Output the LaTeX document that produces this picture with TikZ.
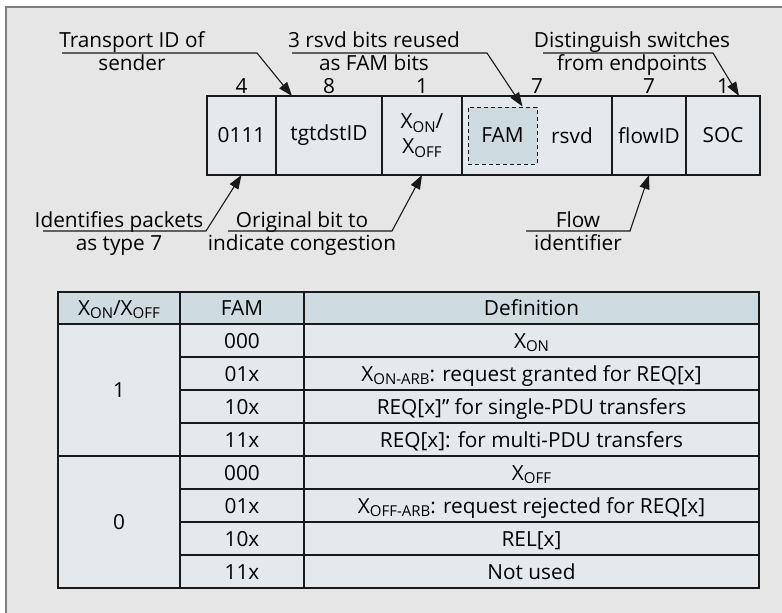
\documentclass[tikz,border=0pt]{standalone}
\usepackage{fontspec}
\setmainfont{Open Sans}
\usetikzlibrary{positioning,arrows.meta,calc}
\definecolor{bggray}{RGB}{230,230,230}
\definecolor{framegray}{RGB}{128,128,128}
\definecolor{fieldfill}{RGB}{228,233,238}
\definecolor{famfill}{RGB}{205,218,223}
\definecolor{headfill}{RGB}{206,219,224}
\definecolor{inkline}{RGB}{25,25,25}
\newcommand{\lowtx}[1]{\raisebox{-0.35ex}{\fontsize{15}{15}\selectfont #1}}
\tikzset{
  fieldbox/.style={draw=inkline, line width=1.3pt, fill=fieldfill, minimum height=79pt, outer sep=0pt, inner sep=0pt, align=center},
  fambox/.style={draw=inkline, dash pattern=on 4pt off 3pt, line width=1pt, fill=famfill, minimum width=69pt, minimum height=57pt, inner sep=0pt},
  bitnum/.style={anchor=base, inner sep=0pt},
  calltext/.style={align=center, anchor=base, inner sep=0pt},
  callarrow/.style={-{Triangle[length=14pt,width=10pt]}, line width=1.1pt, inkline},
  tabrule/.style={line width=1.8pt, inkline},
  celltext/.style={anchor=base, inner sep=0pt}
}
\begin{document}
\begin{tikzpicture}[x=1pt, y=-1pt, every node/.style={font=\fontsize{20.8}{23}\selectfont}]
  \useasboundingbox (0,0) rectangle (782,613);
  % frame
  \fill[bggray] (6,7) rectangle (782,613);
  \draw[framegray, line width=2pt] (6,613) -- (6,7) -- (782,7);

  % packet fields
  \node[fieldbox, minimum width=69pt] (f0111) at (241.5,135.5) {0111};
  \node[fieldbox, minimum width=106pt, right=0pt of f0111] (ftgt) {tgtdstID};
  \node[fieldbox, minimum width=80pt, right=0pt of ftgt] (fxon) {X\lowtx{ON}/\\[2pt]X\lowtx{OFF}};
  \node[fieldbox, minimum width=150pt, right=0pt of fxon] (frsvd) {};
  \node[fieldbox, minimum width=74pt, right=0pt of frsvd] (fflow) {flowID};
  \node[fieldbox, minimum width=74pt, right=0pt of fflow] (fsoc) {SOC};
  \node[fambox] (ffam) at (502.5,135.5) {FAM};
  \node[inner sep=0pt] (rsvdtx) at (572,135.5) {rsvd};
  \foreach \f/\n in {f0111/4, ftgt/8, fxon/1, frsvd/7, fflow/7, fsoc/1}
    \node[bitnum] (n\f) at ($(\f.north)+(0,-3)$) {\n};

  % callouts (base = last line)
  \node[calltext] (ltrans) at (132,70) {Transport ID of\\sender};
  \node[calltext] (lfam) at (374,70) {3 rsvd bits reused\\as FAM bits};
  \node[calltext] (lsoc) at (632,70) {Distinguish switches\\from endpoints};
  \node[calltext] (lident) at (119,250) {Identifies packets\\as type 7};
  \node[calltext] (lorig) at (302,250) {Original bit to\\indicate congestion};
  \node[calltext] (lflow) at (578,250) {Flow\\identifier};
  \coordinate (utrans) at (62,53);
  \coordinate (ufam) at (292,53);
  \coordinate (usoc) at (543,53);
  \coordinate (uident) at (43,231);
  \coordinate (uorig) at (228,231);
  \coordinate (uflow) at (526,231);
  \draw[callarrow] (utrans) -- ++(195,0) -- ($(ftgt.north west)+(16,0)$);
  \draw[callarrow] (ufam) -- ++(195,0) -- ($(ffam.north east)+(-15,0)$);
  \draw[callarrow] (usoc) -- ++(170,0) -- ($(fsoc.north east)+(-21,0)$);
  \draw[callarrow] (uident) -- ++(163,0) -- (f0111.south);
  \draw[callarrow] (uorig) -- ++(164,0) -- (fxon.south);
  \draw[callarrow] (uflow) -- ++(104,0) -- (fflow.south);

  % table
  \fill[headfill] (58,292) rectangle (759,324);
  \fill[fieldfill] (58,324) rectangle (759,588);
  \foreach \y in {357,390,423,489,522,555}
    \draw[tabrule] (180,\y) -- (759,\y);
  \draw[tabrule] (58,324) -- (759,324) (58,456) -- (759,456);
  \draw[tabrule] (180,292) -- (180,588) (304,292) -- (304,588);
  \draw[tabrule] (58,292) rectangle (759,588);
  \node[celltext] (hxon) at (119,315) {X\lowtx{ON}/X\lowtx{OFF}};
  \node[celltext] (hfam) at (242,315) {FAM};
  \node[celltext] (hdef) at (531.5,315) {Definition};
  \node[celltext] (von) at (119,397) {1};
  \node[celltext] (voff) at (119,529) {0};
  \foreach \fv/\dv [count=\i from 0] in {000/X\lowtx{ON}, 01x/X\lowtx{ON-ARB}: request granted for REQ[x],
      10x/REQ[x]” for single-PDU transfers, 11x/REQ[x]: for multi-PDU transfers,
      000/X\lowtx{OFF}, 01x/X\lowtx{OFF-ARB}: request rejected for REQ[x],
      10x/REL[x], 11x/Not used} {
    \node[celltext] (fam\i) at (242,348+33*\i) {\fv};
    \node[celltext] (def\i) at (531.5,348+33*\i) {\dv};
  }
\end{tikzpicture}
\end{document}
